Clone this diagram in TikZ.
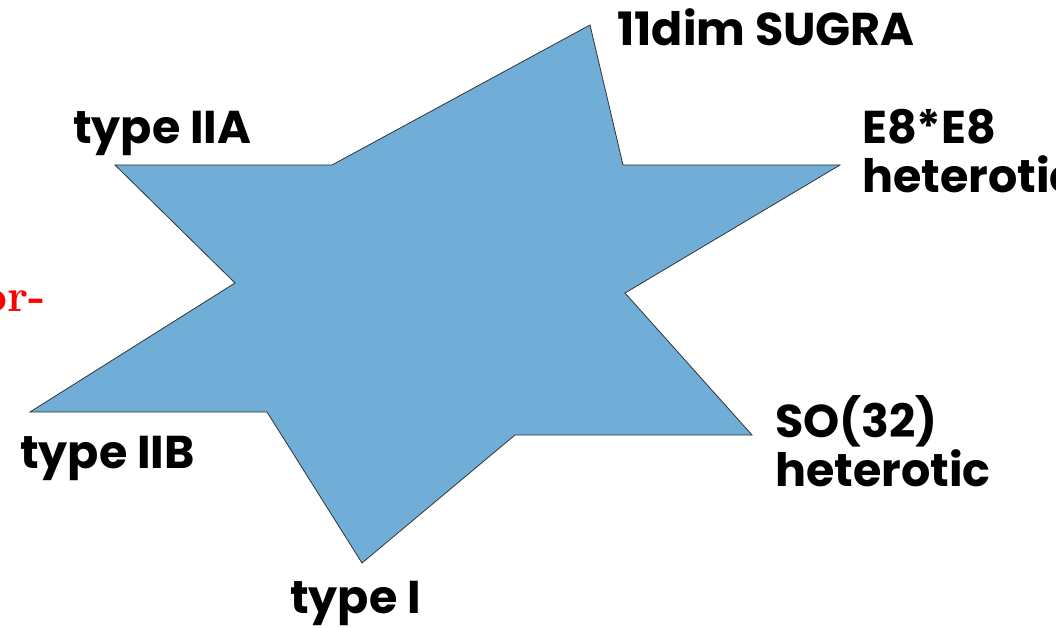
\documentclass[tikz,border=0pt]{standalone}
\usepackage{fontspec}
\newfontfamily\labfont{Poppins}
\definecolor{starblue}{RGB}{112,174,216}
\tikzset{
  lab/.style={font=\labfont\bfseries\fontsize{46}{49}\selectfont, inner sep=0pt, anchor=base west, align=left},
}
\begin{document}
\begin{tikzpicture}[x=1pt,y=-1pt]
\useasboundingbox (0,0) rectangle (1056,628);
\clip (0,0) rectangle (1056,628);
\draw[fill=starblue, draw=black!80, line width=0.8pt, line join=miter]
  (590,25) coordinate (t1) -- (623,165) -- (840,165) coordinate (t2) -- (625,293)
  -- (752,435) coordinate (t3) -- (515,435) -- (362,563) coordinate (t4) -- (267,412)
  -- (30,412) coordinate (t5) -- (235,283) -- (115,165) coordinate (t6) -- (332,165) -- cycle;
\node[lab] (sugra) at (617,46) {11dim SUGRA};
\node[lab] (iia) at (73,144) {type IIA};
\node[lab] (e8) at (862,193) {E8*E8\\heterotic};
\node[lab] (so) at (775,486) {SO(32)\\heterotic};
\node[lab] (iib) at (20,468) {type IIB};
\node[lab] (i) at (290,613) {type I};
\node[text=red, anchor=base east, inner sep=0pt] (or) at (46,311) {\fontsize{46}{50}\selectfont\bfseries or-};
\end{tikzpicture}
\end{document}
